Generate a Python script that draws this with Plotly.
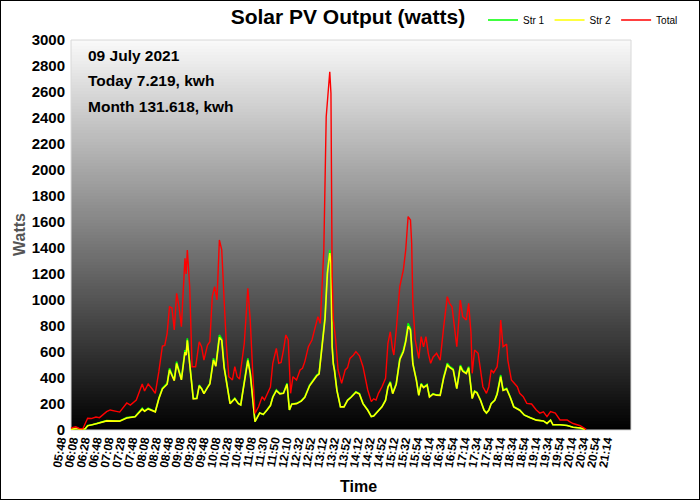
import plotly.graph_objects as go

# ---------------- data ----------------
tick_labels = ["05:48", "06:08", "06:28", "06:48", "07:08", "07:28", "07:48", "08:08", "08:28",
               "08:48", "09:08", "09:28", "09:48", "10:08", "10:28", "10:48", "11:08", "11:30",
               "11:50", "12:10", "12:32", "12:52", "13:12", "13:32", "13:52", "14:12", "14:32",
               "14:52", "15:12", "15:32", "15:54", "16:14", "16:34", "16:54", "17:14", "17:34",
               "17:54", "18:14", "18:34", "18:54", "19:14", "19:34", "19:54", "20:14", "20:34",
               "20:54", "21:14"]

# sample index (one sample ~2 min) and watts
str1_idx = [0, 5, 8, 12, 14, 18, 22, 30, 35, 41,
            47, 50, 54, 60, 62, 65, 71, 74, 77, 81,
            83, 87, 89, 93, 96, 97, 98, 100, 103, 106,
            108, 110, 112, 115, 117, 120, 122, 125, 127, 129,
            131, 134, 138, 141, 143, 146, 149, 151, 153, 155,
            159, 162, 165, 168, 170, 173, 176, 179, 182, 184,
            186, 190, 194, 197, 201, 204, 207, 209, 211, 214,
            216, 218, 219, 220, 221, 222, 224, 227, 230, 233,
            236, 240, 243, 246, 250, 253, 255, 258, 262, 265,
            267, 269, 271, 274, 277, 280, 282, 284, 286, 288,
            291, 293, 295, 297, 300, 302, 305, 308, 311, 314,
            317, 319, 322, 325, 328, 330, 333, 335, 338, 340,
            342, 345, 348, 350, 352, 354, 357, 359, 362, 364,
            367, 370, 373, 378, 382, 387, 392, 398, 401, 404,
            406, 412, 418, 423, 429, 433]
str1_w = [5, 15, 5, 10, 35, 40, 51, 72, 70, 69,
          95, 97, 103, 167, 145, 167, 141, 244, 321, 359,
          474, 385, 526, 390, 615, 580, 705, 513, 244, 244,
          346, 320, 282, 330, 359, 551, 495, 731, 700, 487,
          360, 205, 244, 205, 195, 359, 551, 440, 250, 64,
          133, 120, 154, 190, 256, 308, 280, 285, 359, 154,
          200, 205, 225, 256, 346, 385, 423, 436, 615, 872,
          1231, 1385, 1300, 650, 513, 462, 308, 179, 179, 231,
          256, 295, 280, 205, 154, 103, 110, 141, 180, 231,
          333, 372, 282, 359, 551, 615, 692, 820, 782, 513,
          385, 269, 359, 330, 350, 256, 280, 270, 269, 410,
          513, 490, 470, 320, 500, 460, 440, 487, 244, 300,
          290, 231, 154, 130, 154, 205, 230, 280, 423, 308,
          320, 256, 180, 154, 115, 95, 77, 70, 51, 77,
          40, 40, 35, 21, 15, 5]
str2_w = [5, 12, 5, 10, 32, 40, 50, 70, 70, 68,
          93, 96, 102, 160, 145, 162, 140, 240, 315, 352,
          462, 380, 512, 386, 600, 575, 690, 508, 240, 242,
          340, 318, 280, 326, 355, 538, 490, 712, 690, 482,
          356, 203, 240, 203, 193, 352, 536, 436, 248, 64,
          131, 120, 152, 188, 252, 302, 278, 282, 352, 154,
          198, 203, 222, 252, 340, 378, 416, 430, 600, 855,
          1205, 1360, 1285, 640, 508, 456, 305, 178, 178, 228,
          252, 290, 276, 203, 152, 103, 108, 140, 178, 228,
          328, 365, 280, 352, 540, 602, 680, 798, 770, 508,
          380, 266, 352, 326, 345, 254, 276, 268, 266, 402,
          500, 482, 462, 318, 490, 452, 434, 478, 242, 296,
          286, 228, 152, 130, 152, 202, 228, 275, 410, 304,
          315, 252, 178, 152, 114, 94, 76, 70, 51, 75,
          40, 40, 35, 21, 15, 5]

total_idx = [0, 4, 7, 10, 12, 14, 17, 21, 24, 30,
             33, 37, 41, 47, 50, 55, 60, 62, 65, 68,
             71, 74, 77, 79, 81, 83, 85, 87, 89, 91,
             93, 96, 97, 98, 100, 102, 105, 108, 110, 112,
             115, 117, 119, 121, 123, 125, 127, 129, 131, 133,
             136, 138, 140, 142, 146, 149, 151, 153, 155, 158,
             161, 163, 168, 170, 173, 175, 177, 179, 181, 183,
             185, 187, 190, 193, 195, 197, 200, 203, 206, 208,
             210, 213, 215, 217, 218, 219, 220, 221, 223, 225,
             228, 231, 233, 235, 238, 240, 243, 246, 248, 250,
             253, 255, 257, 259, 262, 265, 267, 269, 271, 272,
             274, 277, 280, 282, 284, 286, 287, 288, 290, 293,
             295, 297, 299, 301, 303, 305, 308, 311, 314, 317,
             319, 321, 323, 325, 328, 330, 333, 335, 337, 338,
             340, 343, 345, 347, 350, 352, 354, 356, 359, 361,
             362, 364, 367, 368, 371, 376, 378, 381, 384, 388,
             392, 395, 398, 401, 404, 408, 412, 418, 420, 423,
             429, 434]
total_w = [15, 25, 12, 10, 50, 90, 88, 100, 95, 141,
           154, 145, 138, 208, 192, 231, 354, 300, 354, 321,
           282, 449, 646, 650, 744, 948, 940, 769, 1051, 950,
           795, 1320, 1200, 1385, 1103, 487, 487, 679, 640, 538,
           654, 679, 1026, 1103, 1000, 1462, 1385, 1000, 641, 410,
           385, 487, 410, 392, 667, 1090, 846, 462, 128, 179,
           256, 231, 330, 513, 628, 513, 520, 615, 731, 692,
           282, 410, 385, 462, 475, 526, 641, 692, 795, 872,
           820, 1385, 2410, 2692, 2756, 2590, 1180, 850, 692, 462,
           359, 462, 480, 551, 577, 603, 570, 487, 385, 308,
           218, 240, 230, 282, 333, 398, 667, 756, 615, 577,
           769, 1103, 1231, 1385, 1641, 1615, 1436, 974, 692, 551,
           718, 640, 718, 590, 513, 560, 590, 538, 795, 1026,
           974, 948, 795, 641, 1000, 872, 846, 974, 744, 436,
           615, 590, 462, 333, 282, 333, 462, 440, 487, 650,
           846, 641, 660, 538, 385, 333, 282, 256, 205, 200,
           154, 130, 140, 103, 141, 130, 77, 77, 64, 50,
           33, 5]

info_lines = ["09 July 2021", "Today 7.219, kwh", "Month 131.618, kwh"]

assert len(str1_idx) == len(str1_w) == len(str2_w)
assert len(total_idx) == len(total_w)

# ---------------- layout constants (pixels) ----------------
W, H = 700, 500
ML, MR, MT, MB = 55, 69, 40, 70          # axis domain (labels may sit left of the box)
BOX_L = 71                               # left edge of the shaded plot box
PW, PH = W - ML - MR, H - MT - MB
PX_PER_SAMPLE = 1.187
SAMPLES_PER_LABEL = 10
LABEL_SHIFT = -9
X_RANGE = [(ML - BOX_L) / PX_PER_SAMPLE, (W - MR - BOX_L) / PX_PER_SAMPLE]
BOX_X0 = (BOX_L - ML) / PW
FONT = "Liberation Sans, Arial, sans-serif"


def px_x(p):
    return (p - ML) / PW


def px_y(p):
    return 1 - (p - MT) / PH


fig = go.Figure()
fig.add_trace(go.Scatter(x=str1_idx, y=str1_w, mode="lines", name="Str 1",
                         line=dict(color="#00ff00", width=1.6)))
fig.add_trace(go.Scatter(x=str1_idx, y=str2_w, mode="lines", name="Str 2",
                         line=dict(color="#ffff00", width=1.6)))
fig.add_trace(go.Scatter(x=total_idx, y=total_w, mode="lines", name="Total",
                         line=dict(color="#ff0000", width=1.4)))

# gradient background (white at top -> black at bottom), overlapping strips
shapes = []
N = 130
for i in range(N):
    f = (i + 0.5) / N
    c = int(round(250 * f))
    shapes.append(dict(type="rect", xref="paper", yref="paper", x0=BOX_X0, x1=1,
                       y0=i / N, y1=min(1.0, (i + 2.0) / N), fillcolor=f"rgb({c},{c},{c})",
                       line=dict(width=0), layer="below"))
# plot box border
shapes.append(dict(type="rect", xref="paper", yref="paper", x0=BOX_X0, x1=1, y0=0, y1=1,
                   line=dict(color="#d8d8d8", width=1), fillcolor="rgba(0,0,0,0)",
                   layer="below"))
# outer frame
shapes.append(dict(type="rect", xref="paper", yref="paper",
                   x0=px_x(0), x1=px_x(W), y0=px_y(H), y1=px_y(0),
                   line=dict(color="black", width=2), fillcolor="rgba(0,0,0,0)"))

annotations = []
for k, t in enumerate(info_lines):
    annotations.append(dict(text=t, xref="paper", yref="paper", x=px_x(86),
                            y=px_y(56 + 25 * k), xanchor="left", yanchor="middle",
                            showarrow=False, font=dict(family=FONT, size=15.5, color="black",
                                                       weight="bold")))
annotations.append(dict(text="Time", xref="paper", yref="paper", x=px_x(358), y=px_y(486),
                        xanchor="center", yanchor="middle", showarrow=False,
                        font=dict(family=FONT, size=16, color="black", weight="bold")))
annotations.append(dict(text="Watts", xref="paper", yref="paper", x=px_x(19), y=px_y(235),
                        xanchor="center", yanchor="middle", showarrow=False, textangle=-90,
                        font=dict(family=FONT, size=16, color="#555555", weight="bold")))

fig.update_layout(
    width=W, height=H,
    margin=dict(l=ML, r=MR, t=MT, b=MB, pad=0, autoexpand=False),
    paper_bgcolor="white", plot_bgcolor="white",
    font=dict(family=FONT, color="black"),
    title=dict(text="Solar PV Output (watts)", x=0.497, xanchor="center",
               y=1 - 17 / H, yanchor="middle", yref="container",
               font=dict(family=FONT, size=21, color="black", weight="bold")),
    legend=dict(orientation="h", x=px_x(683), xanchor="right",
                y=px_y(20), yanchor="middle",
                font=dict(family=FONT, size=10, color="black"),
                bgcolor="rgba(0,0,0,0)", itemwidth=30, tracegroupgap=0),
    shapes=shapes,
    annotations=annotations,
    showlegend=True,
)

fig.update_xaxes(
    range=X_RANGE, showgrid=False, zeroline=False, showline=False,
    tickmode="array",
    tickvals=[SAMPLES_PER_LABEL * k + LABEL_SHIFT for k in range(len(tick_labels))],
    ticktext=tick_labels, tickangle=-80,
    tickfont=dict(family=FONT, size=12, color="black", weight="bold"),
    ticks="",
)
fig.update_yaxes(
    range=[0, 3000], dtick=200, showgrid=False, zeroline=False, showline=False,
    anchor="free", position=BOX_X0,
    tickfont=dict(family=FONT, size=15, color="black", weight="bold"),
    ticks="", ticklabelstandoff=6,
)

fig.write_html("out.html")
